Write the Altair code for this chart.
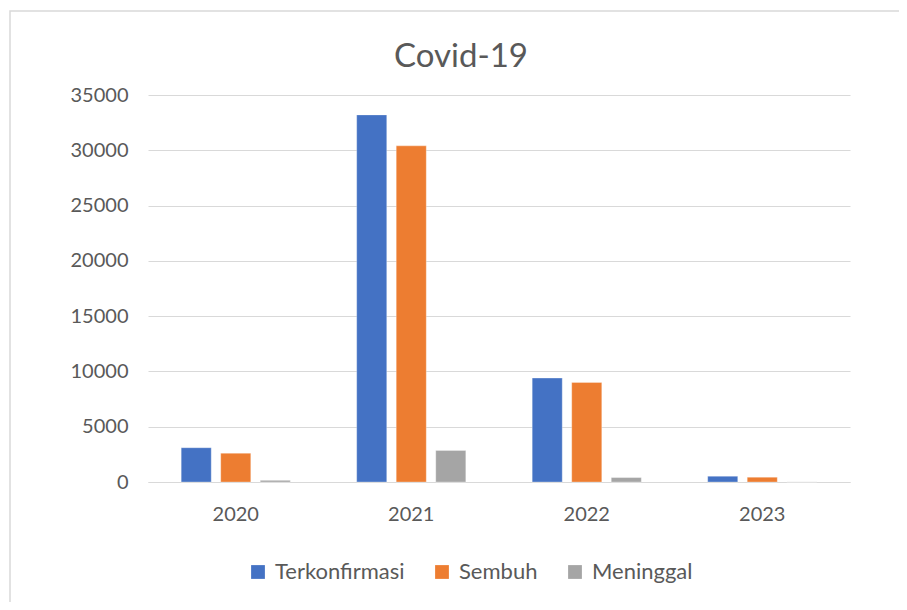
import altair as alt
import pandas as pd

years = ["2020", "2021", "2022", "2023"]
series = ["Terkonfirmasi", "Sembuh", "Meninggal"]
terkonfirmasi = [3100, 33200, 9400, 520]
sembuh = [2600, 30400, 9000, 430]
meninggal = [150, 2850, 400, 10]
colors = ["#4472c4", "#ed7d31", "#a5a5a5"]
y_ticks = [0, 5000, 10000, 15000, 20000, 25000, 30000, 35000]
chart_title = "Covid-19"

rows = []
for name, vals in zip(series, [terkonfirmasi, sembuh, meninggal]):
    for yr, v in zip(years, vals):
        rows.append({"Tahun": yr, "Seri": name, "Nilai": v})
df = pd.DataFrame(rows)

FONT = "Lato"
TXT = "#595959"

bars = alt.Chart(df).mark_bar(stroke="white", strokeWidth=0.6, strokeOpacity=0.5).encode(
    x=alt.X("Tahun:N", sort=years, title=None,
            scale=alt.Scale(paddingInner=0, paddingOuter=0),
            axis=alt.Axis(labelAngle=0, ticks=False, domain=True, domainColor="#d9d9d9",
                          domainWidth=1.2, labelFontSize=20, labelFont=FONT, labelColor=TXT,
                          labelPadding=22, grid=False)),
    xOffset=alt.XOffset("Seri:N", sort=series,
                        scale=alt.Scale(paddingInner=0.24, paddingOuter=0.84)),
    y=alt.Y("Nilai:Q", title=None,
            scale=alt.Scale(domain=[0, 35000], nice=False),
            axis=alt.Axis(values=y_ticks, format="d", ticks=False, domain=False,
                          gridColor="#d9d9d9", gridWidth=1.2, labelFontSize=20,
                          labelFont=FONT, labelColor=TXT, labelPadding=20)),
    color=alt.Color("Seri:N", sort=series,
                    scale=alt.Scale(domain=series, range=colors),
                    legend=alt.Legend(title=None, orient="none", direction="horizontal",
                                      legendX=99, legendY=466, symbolType="square",
                                      symbolSize=190, symbolStrokeWidth=0,
                                      labelFontSize=22, labelFont=FONT, labelColor=TXT,
                                      columnPadding=26, labelOffset=6)),
)

frame = alt.Chart(pd.DataFrame({"a": [0]})).mark_rect(
    fill=None, stroke="#d9d9d9", strokeWidth=1.5, clip=False
).encode(
    x=alt.value(-138), x2=alt.value(820), y=alt.value(-84), y2=alt.value(530)
)

title = alt.Chart(pd.DataFrame({"t": [chart_title]})).mark_text(
    font=FONT, fontSize=33, color=TXT, align="center", baseline="alphabetic"
).encode(x=alt.value(313), y=alt.value(-28), text="t:N")

chart = alt.layer(frame, bars, title).properties(
    width=702, height=387,
    background="white",
    autosize=alt.AutoSizeParams(type="none"),
    padding={"left": 140, "top": 87, "right": 49, "bottom": 120},
).configure_view(strokeWidth=0, stroke="transparent")

chart.save("out.html", embed_options={"renderer": "svg", "actions": False})
